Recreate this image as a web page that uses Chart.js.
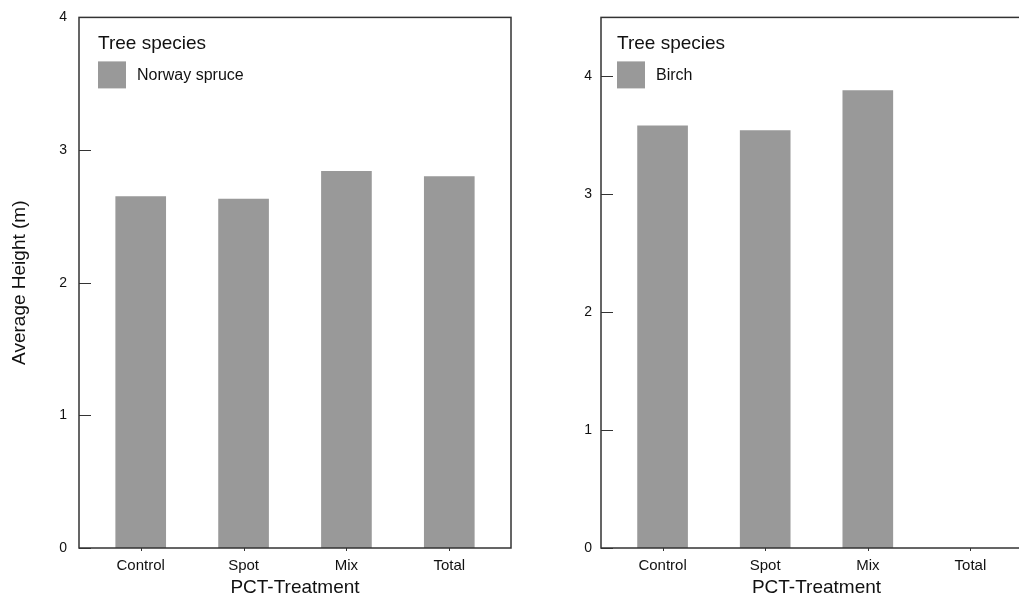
<!DOCTYPE html>
<html>
<head>
<meta charset="utf-8">
<script src="https://cdn.jsdelivr.net/npm/chart.js@4.4.0/dist/chart.umd.min.js"></script>
<style>
  html, body { margin: 0; padding: 0; background: #fff; overflow: hidden; width: 1019px; height: 597px; }
  #chartA { position: absolute; left: 0; top: -3px; }
  #chartB { position: absolute; left: 560px; top: 0; }
</style>
</head>
<body>
<canvas id="chartA" width="560" height="600"></canvas>
<canvas id="chartB" width="500" height="597"></canvas>
<script>
// data
const categories = ['Control', 'Spot', 'Mix', 'Total'];
const spruceHeights = [2.65, 2.63, 2.84, 2.80];
const birchHeights = [3.58, 3.54, 3.88, null];
const spruceTicks = [0, 1, 2, 3, 4];
const birchTicks = [0, 1, 2, 3, 4];

const FONT = "'Liberation Sans', Arial, sans-serif";
const INK = '#111';
const AXIS = '#333';
const BAR = '#999999';

// frame, inner ticks and legend box drawn on top of the chart area
const framePlugin = {
  id: 'frame',
  afterDraw: (chart, args, opts) => {
    const ctx = chart.ctx;
    const a = chart.chartArea;
    const y = chart.scales.y;
    const x = chart.scales.x;
    ctx.save();
    ctx.strokeStyle = AXIS;
    ctx.lineWidth = 1.5;
    ctx.strokeRect(a.left, a.top, a.right - a.left, a.bottom - a.top);
    ctx.lineWidth = 1;
    ctx.beginPath();
    y.ticks.forEach(t => {
      const py = Math.round(y.getPixelForValue(t.value)) + 0.5;
      ctx.moveTo(a.left, py);
      ctx.lineTo(a.left + 12, py);
    });
    x.ticks.forEach(t => {
      const px = Math.round(x.getPixelForValue(t.value)) + 0.5;
      ctx.moveTo(px, a.bottom);
      ctx.lineTo(px, a.bottom + 3);
    });
    ctx.stroke();

    // legend
    const ds = chart.data.datasets[0];
    const lx = a.left + opts.dx;
    ctx.fillStyle = INK;
    ctx.textAlign = 'left';
    ctx.textBaseline = 'alphabetic';
    ctx.font = '19px ' + FONT;
    ctx.fillText(opts.title, lx, a.top + 32);
    ctx.fillStyle = ds.backgroundColor;
    ctx.fillRect(lx, a.top + 44, 28, 27);
    ctx.fillStyle = INK;
    ctx.textBaseline = 'middle';
    ctx.font = '16px ' + FONT;
    ctx.fillText(ds.label, lx + 39, a.top + 58);
    ctx.restore();
  }
};

function makeChart(id, label, values, yMax, yTicks, cfg) {
  return new Chart(document.getElementById(id), {
    type: 'bar',
    data: {
      datasets: [{
        label: label,
        data: values.map((v, i) => ({ x: i, y: v })),
        backgroundColor: BAR,
        borderWidth: 0,
        barThickness: 50
      }]
    },
    options: {
      responsive: false,
      animation: false,
      layout: { padding: { top: 17, right: cfg.padRight, left: 0, bottom: 0 } },
      plugins: {
        legend: { display: false },
        tooltip: { enabled: false },
        frame: { title: 'Tree species', dx: cfg.dx }
      },
      scales: {
        x: {
          type: 'linear',
          offset: false,
          min: -0.6,
          max: 3.6,
          afterBuildTicks: s => { s.ticks = categories.map((c, i) => ({ value: i })); },
          afterFit: s => { s.height = 49; },
          grid: { display: false, drawTicks: false, offset: false },
          border: { display: false },
          ticks: {
            padding: 9,
            color: INK,
            font: { family: FONT, size: 15 },
            callback: v => categories[v]
          },
          title: {
            display: true,
            text: 'PCT-Treatment',
            color: INK,
            padding: 0,
            font: { family: FONT, size: 19, lineHeight: 1 }
          }
        },
        y: {
          min: 0,
          max: yMax,
          afterBuildTicks: s => { s.ticks = yTicks.map(v => ({ value: v })); },
          afterFit: s => { s.width = cfg.yWidth; },
          grid: { display: false, drawTicks: false },
          border: { display: false },
          ticks: {
            padding: cfg.tickPad,
            color: INK,
            font: { family: FONT, size: 14 }
          },
          title: {
            display: cfg.yTitle,
            text: 'Average Height (m)',
            color: INK,
            padding: { top: 8, bottom: 0 },
            font: { family: FONT, size: 19 }
          }
        }
      }
    },
    plugins: [framePlugin, {
      id: 'whiteBg',
      beforeDraw: (chart) => {
        const ctx = chart.canvas.getContext('2d');
        ctx.save();
        ctx.fillStyle = 'white';
        ctx.fillRect(0, 0, chart.canvas.width, chart.canvas.height);
        ctx.restore();
      }
    }]
  });
}

const chartA = makeChart('chartA', 'Norway spruce', spruceHeights, 4, spruceTicks,
  { padRight: 49, yWidth: 79, tickPad: 12, dx: 19, yTitle: true });
const chartB = makeChart('chartB', 'Birch', birchHeights, 4.5, birchTicks,
  { padRight: 28, yWidth: 41, tickPad: 9, dx: 16, yTitle: false });
</script>
</body>
</html>
